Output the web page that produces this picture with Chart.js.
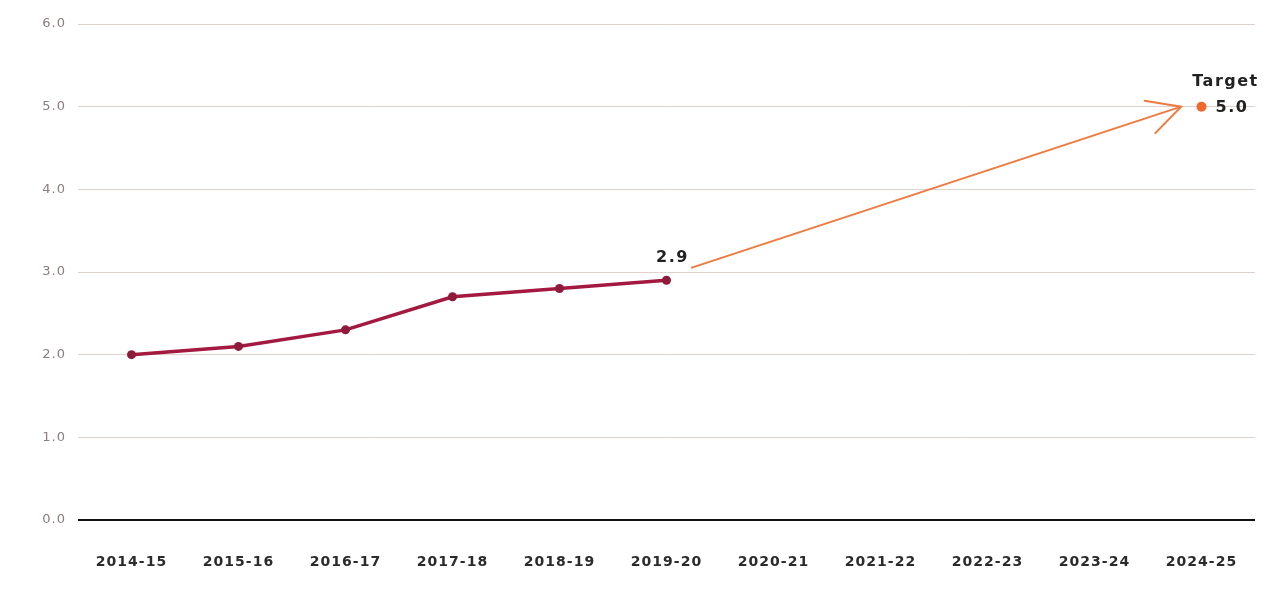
<!DOCTYPE html>
<html><head><meta charset="utf-8">
<script src="https://cdn.jsdelivr.net/npm/chart.js@4/dist/chart.umd.min.js"></script>
<style>html,body{margin:0;padding:0;background:#fff}#wrap{width:1275px;height:597px}</style>
</head><body><div id="wrap"><canvas id="c" width="1275" height="597"></canvas></div>
<script>
const categories = ['2014-15','2015-16','2016-17','2017-18','2018-19','2019-20','2020-21','2021-22','2022-23','2023-24','2024-25'];
const actualValues = [2.0, 2.1, 2.3, 2.7, 2.8, 2.9];
const targetIndex = 10;
const targetValue = 5.0;
const arrowFrom = {x: 5.23, y: 3.05};
const arrowTo = {x: 9.81, y: 5.0};
const yTicks = [0,1,2,3,4,5,6];

const spacingPlugin = {
  id: 'spacing',
  beforeInit(chart) { chart.ctx.letterSpacing = '1px'; },
  beforeDraw(chart) { chart.ctx.letterSpacing = '1px'; }
};

const labelPlugin = {
  id: 'labels',
  afterDatasetsDraw(chart) {
    const ctx = chart.ctx, xs = chart.scales.x, ys = chart.scales.y;
    const x1 = xs.getPixelForValue(arrowFrom.x), y1 = ys.getPixelForValue(arrowFrom.y);
    const x2 = xs.getPixelForValue(arrowTo.x), y2 = ys.getPixelForValue(arrowTo.y);
    const a = Math.atan2(y2 - y1, x2 - x1);
    const len = 37, spread = 0.48;
    ctx.save();
    ctx.strokeStyle = '#ef7a3e'; ctx.lineWidth = 2; ctx.lineCap = 'round';
    ctx.beginPath();
    ctx.moveTo(x2 - len * Math.cos(a - spread), y2 - len * Math.sin(a - spread));
    ctx.lineTo(x2, y2);
    ctx.lineTo(x2 - len * Math.cos(a + spread), y2 - len * Math.sin(a + spread));
    ctx.stroke();
    ctx.fillStyle = '#222';
    ctx.letterSpacing = '1.5px';
    ctx.font = 'bold 16px "DejaVu Sans", sans-serif';
    ctx.textAlign = 'center'; ctx.textBaseline = 'middle';
    const li = actualValues.length - 1;
    ctx.fillText(actualValues[li].toFixed(1), xs.getPixelForValue(li) + 6, ys.getPixelForValue(actualValues[li]) - 22);
    const tx = xs.getPixelForValue(targetIndex), ty = ys.getPixelForValue(targetValue);
    ctx.fillText('Target', tx + 24, ty - 25);
    ctx.textAlign = 'left';
    ctx.fillText(targetValue.toFixed(1), tx + 14, ty + 1);
    ctx.restore();
  }
};

new Chart(document.getElementById('c'), {
  type: 'line',
  data: {
    datasets: [
      {
        data: actualValues.map((v, i) => ({x: i, y: v})),
        borderColor: '#a3193f', backgroundColor: '#8e1a3c',
        borderWidth: 3.5, pointRadius: 4.5, pointBorderWidth: 0, tension: 0
      },
      {
        data: [arrowFrom, arrowTo],
        borderColor: '#ef7a3e', borderWidth: 2, pointRadius: 0, tension: 0
      },
      {
        data: [{x: targetIndex, y: targetValue}],
        borderColor: '#ef6a2c', backgroundColor: '#ef6a2c',
        pointRadius: 5, pointBorderWidth: 0, showLine: false
      }
    ]
  },
  options: {
    responsive: false, animation: false,
    layout: {padding: {top: 24, right: 20, bottom: 0, left: 0}},
    plugins: {legend: {display: false}, tooltip: {enabled: false}},
    scales: {
      x: {
        type: 'linear', min: -0.5, max: 10.5,
        afterBuildTicks(s) { s.ticks = categories.map((c, i) => ({value: i})); },
        afterFit(s) { s.height = 77; },
        ticks: {
          callback: (v) => categories[v],
          color: '#2b2b2b', padding: 26, maxRotation: 0, autoSkip: false,
          font: {family: '"DejaVu Sans", sans-serif', size: 14, weight: 'bold'}
        },
        grid: {display: false}, border: {display: false}
      },
      y: {
        min: 0, max: 6,
        afterBuildTicks(s) { s.ticks = yTicks.map(v => ({value: v})); },
        afterFit(s) { s.width = 78; },
        ticks: {
          callback: (v) => v.toFixed(1),
          color: '#8a7d7d', padding: 12,
          font: {family: '"DejaVu Sans", sans-serif', size: 13}
        },
        grid: {
          drawTicks: false,
          color: (c) => c.tick && c.tick.value === 0 ? '#111' : '#dfd2cd',
          lineWidth: (c) => c.tick && c.tick.value === 0 ? 2 : 1
        },
        border: {display: false}
      }
    }
  },
  plugins: [spacingPlugin, labelPlugin]
});
</script>
</body></html>
